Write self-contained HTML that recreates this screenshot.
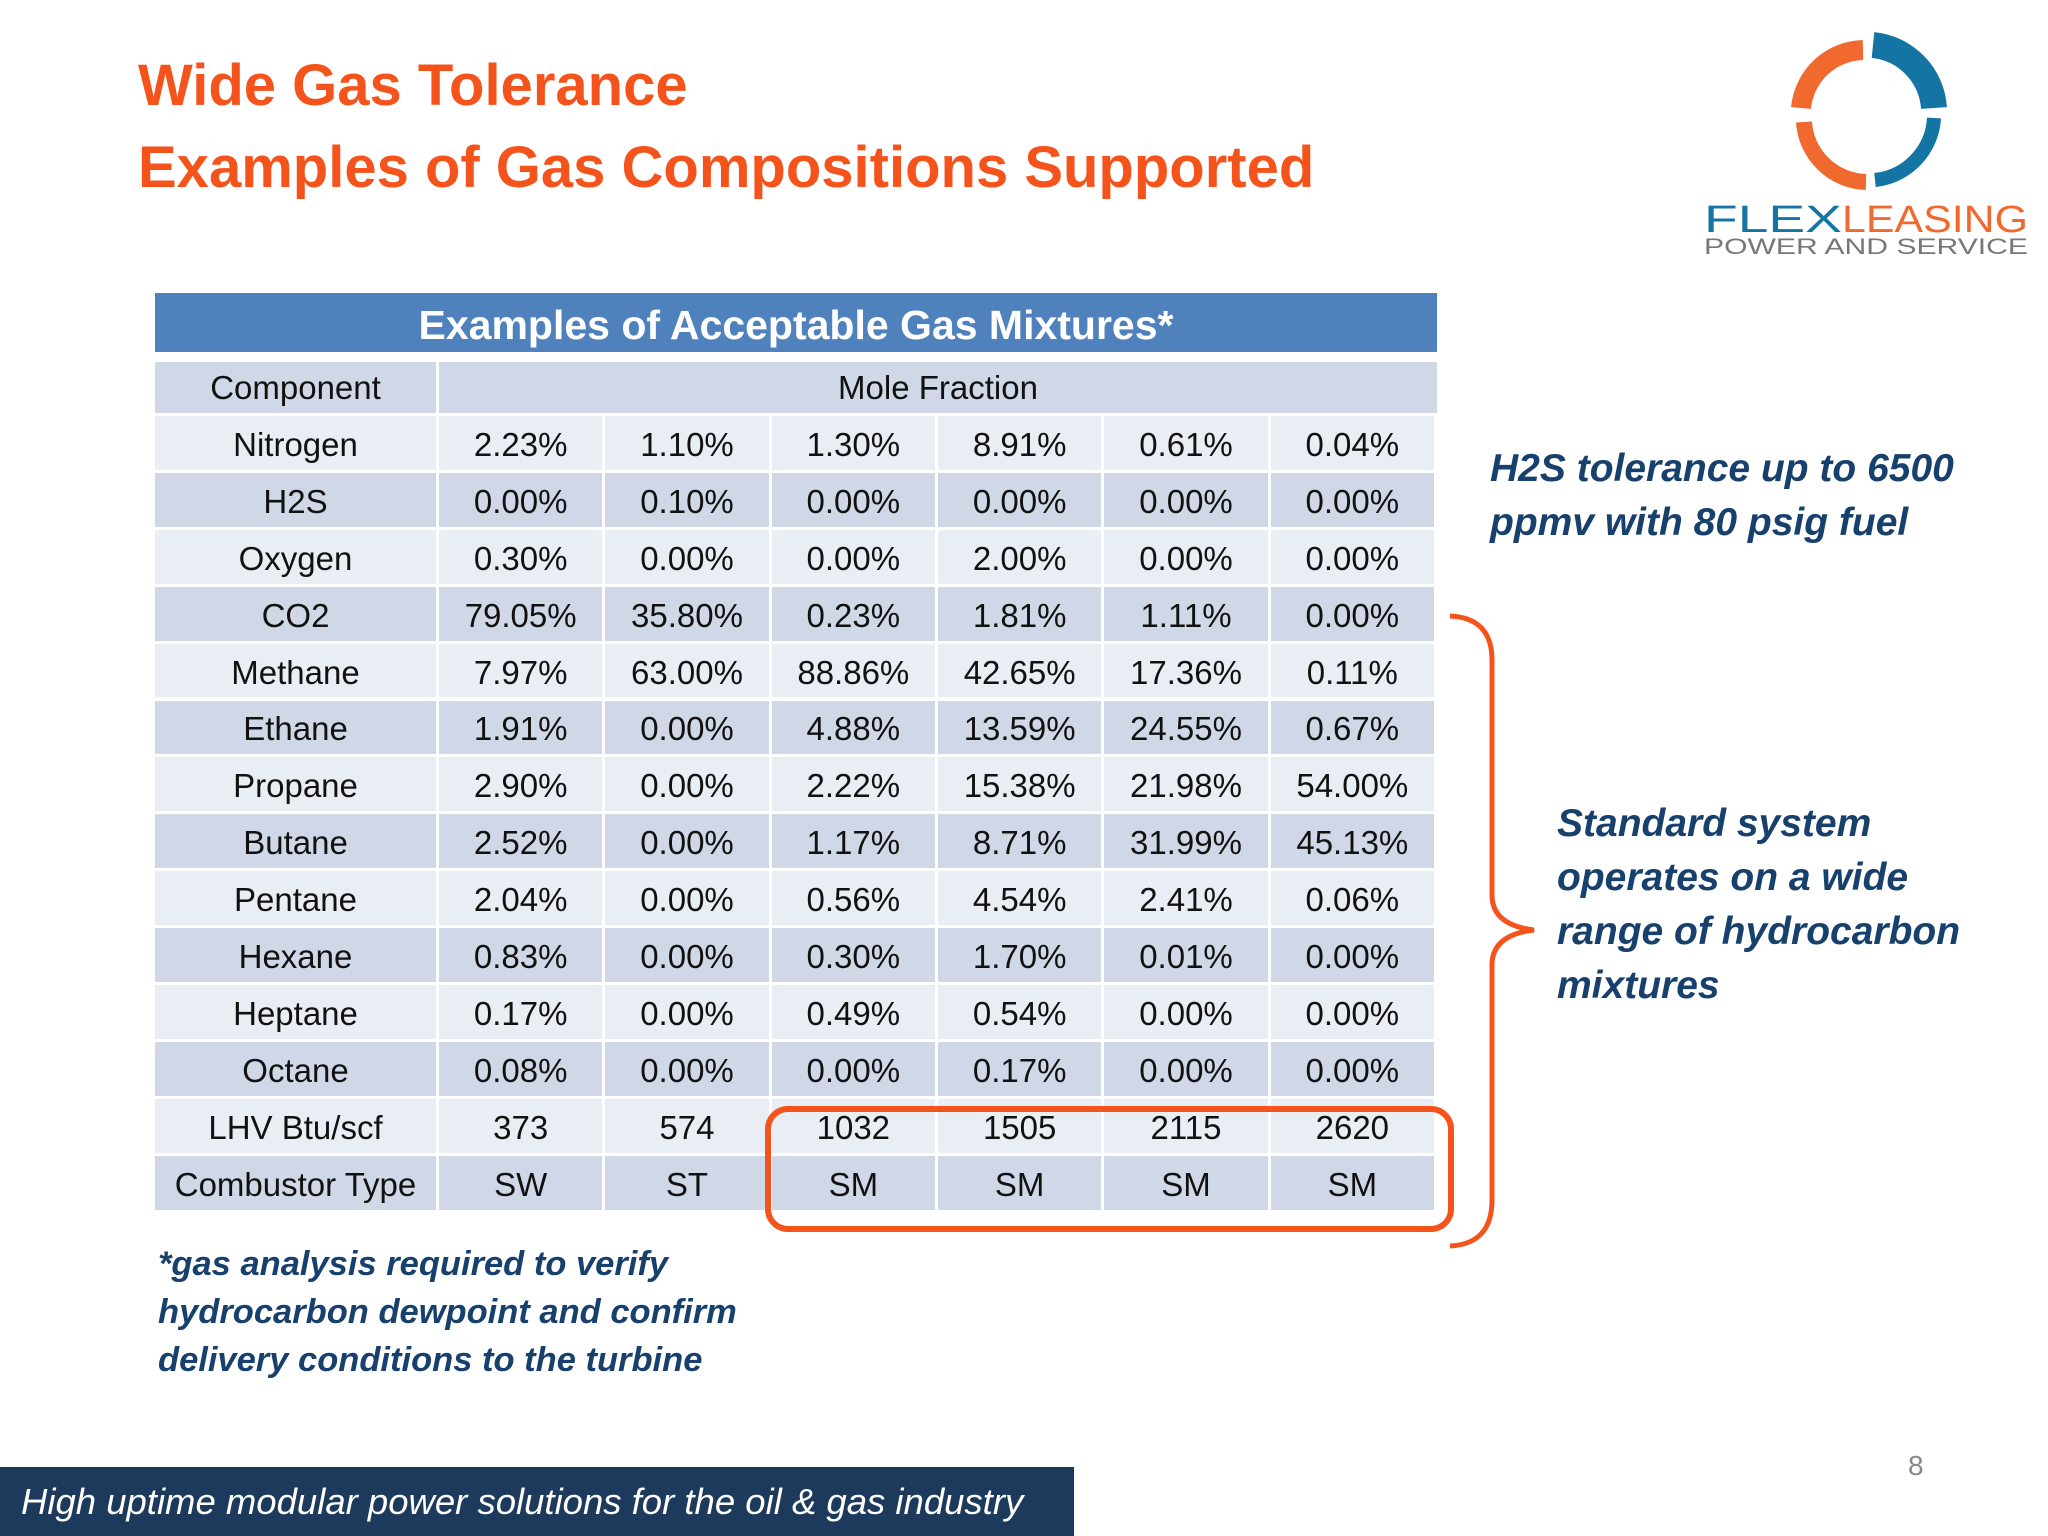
<!DOCTYPE html>
<html><head><meta charset="utf-8"><style>
body{margin:0;width:2048px;height:1536px;position:relative;background:#fff;font-family:"Liberation Sans",sans-serif;overflow:hidden}
.t{position:absolute;white-space:nowrap}
.cell{position:absolute;display:flex;align-items:center;justify-content:center;font-size:33px;color:#111;box-sizing:border-box}
.bi{font-weight:bold;font-style:italic;color:#17406d;font-size:39px;line-height:54px}
</style></head><body>
<div class="t" style="left:138px;top:52px;font-size:58px;font-weight:bold;color:#f4541b">Wide Gas Tolerance</div>
<div class="t" style="left:138px;top:134px;font-size:58px;font-weight:bold;color:#f4541b">Examples of Gas Compositions Supported</div>

<svg style="position:absolute;left:1680px;top:0" width="368" height="280">
<g fill="none" stroke-width="20">
<path d="M183 50 A64 64 0 0 0 121 108" stroke="#f06a30"/>
<path d="M193 45 A68 68 0 0 1 254 108" stroke="#1474a4" stroke-width="26"/>
<path d="M254 118 A66 66 0 0 1 195 180" stroke="#1474a4" stroke-width="14"/>
<path d="M124 122 A64 64 0 0 0 186 182" stroke="#f06a30" stroke-width="16"/>
</g>
<text x="24" y="232" font-size="38" fill="#1474a4" font-family="Liberation Sans" textLength="138" lengthAdjust="spacingAndGlyphs">FLEX</text>
<text x="162" y="232" font-size="38" fill="#f06a30" font-family="Liberation Sans" textLength="186" lengthAdjust="spacingAndGlyphs">LEASING</text>
<text x="24" y="254" font-size="22" fill="#777" font-family="Liberation Sans" textLength="324" lengthAdjust="spacingAndGlyphs">POWER AND SERVICE</text>
</svg>

<div id="tbl"></div>

<svg style="position:absolute;left:0;top:0" width="2048" height="1536">
<rect x="768" y="1109" width="683" height="120" rx="20" fill="none" stroke="#f4541b" stroke-width="6"/>
<path d="M1450 616 Q1492 618 1492 660 L1492 895 Q1492 925 1534 930 Q1492 935 1492 965 L1492 1200 Q1492 1244 1450 1246" fill="none" stroke="#f4541b" stroke-width="5"/>
</svg>

<div class="t bi" style="left:1490px;top:442px">H2S tolerance up to 6500<br>ppmv with 80 psig fuel</div>
<div class="t bi" style="left:1557px;top:797px">Standard system<br>operates on a wide<br>range of hydrocarbon<br>mixtures</div>
<div class="t bi" style="left:158px;top:1240px;font-size:34.5px;line-height:48px">*gas analysis required to verify<br>hydrocarbon dewpoint and confirm<br>delivery conditions to the turbine</div>

<div style="position:absolute;left:0;top:1467px;width:1074px;height:69px;background:#1d3a5c"></div>
<div class="t" style="left:21px;top:1481px;font-size:36.5px;font-style:italic;color:#fff">High uptime modular power solutions for the oil &amp; gas industry</div>
<div class="t" style="left:1908px;top:1450px;font-size:28px;color:#888">8</div>

<script>
const components=["Nitrogen","H2S","Oxygen","CO2","Methane","Ethane","Propane","Butane","Pentane","Hexane","Heptane","Octane","LHV Btu/scf","Combustor Type"];
const mix1=["2.23%","0.00%","0.30%","79.05%","7.97%","1.91%","2.90%","2.52%","2.04%","0.83%","0.17%","0.08%","373","SW"];
const mix2=["1.10%","0.10%","0.00%","35.80%","63.00%","0.00%","0.00%","0.00%","0.00%","0.00%","0.00%","0.00%","574","ST"];
const mix3=["1.30%","0.00%","0.00%","0.23%","88.86%","4.88%","2.22%","1.17%","0.56%","0.30%","0.49%","0.00%","1032","SM"];
const mix4=["8.91%","0.00%","2.00%","1.81%","42.65%","13.59%","15.38%","8.71%","4.54%","1.70%","0.54%","0.17%","1505","SM"];
const mix5=["0.61%","0.00%","0.00%","1.11%","17.36%","24.55%","21.98%","31.99%","2.41%","0.01%","0.00%","0.00%","2115","SM"];
const mix6=["0.04%","0.00%","0.00%","0.00%","0.11%","0.67%","54.00%","45.13%","0.06%","0.00%","0.00%","0.00%","2620","SM"];
const cols=[mix1,mix2,mix3,mix4,mix5,mix6];
const T=document.getElementById('tbl');
function cell(x,y,w,h,txt,bg,extra){const d=document.createElement('div');d.className='cell';
d.style.cssText+=`left:${x}px;top:${y}px;width:${w}px;height:${h}px;background:${bg};`+(extra||'');d.textContent=txt;T.appendChild(d);return d;}
const L=155,R=1437,c0=439,cw=(R-c0)/6,g=3;
let h=cell(L,293,R-L,59,"Examples of Acceptable Gas Mixtures*","#4f81bd","color:#fff;font-weight:bold;font-size:41px;padding-top:6px;");


let a=cell(L,362,c0-L-g,51,"Component","#d0d8e8");


let b=cell(c0,362,R-c0,51,"Mole Fraction","#d0d8e8");


const y0=416,rh=56.9;
components.forEach((c,i)=>{const y=y0+i*rh,bg=i%2?"#d0d8e8":"#e9edf4";
 let e=cell(L,y,c0-L-g,rh-g,c,bg,"padding-top:4px;");
 
 
 cols.forEach((col,j)=>{let f=cell(c0+j*cw,y,cw-g,rh-g,col[i],bg,"padding-top:4px;");
 
 });
});
</script>
</body></html>
